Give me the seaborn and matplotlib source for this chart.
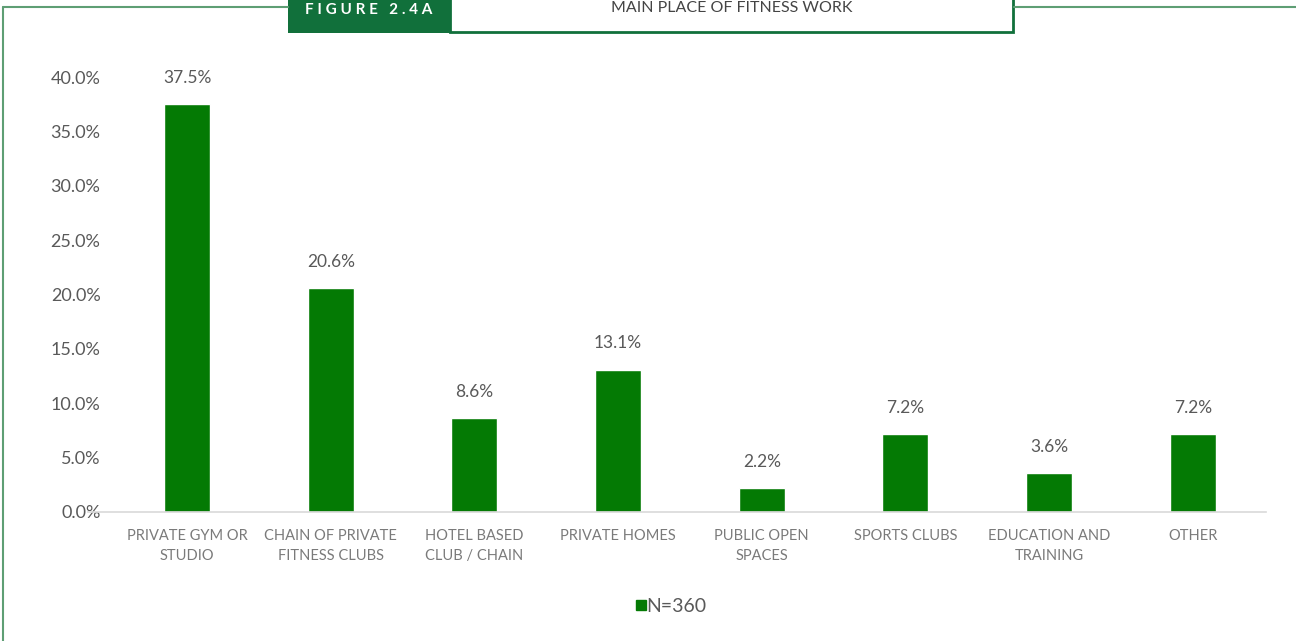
import matplotlib
matplotlib.use('Agg')
import matplotlib.pyplot as plt
import seaborn as sns
import pandas as pd
from matplotlib.patches import Rectangle
from matplotlib.lines import Line2D

categories = ['PRIVATE GYM OR\nSTUDIO', 'CHAIN OF PRIVATE\nFITNESS CLUBS', 'HOTEL BASED\nCLUB / CHAIN',
              'PRIVATE HOMES', 'PUBLIC OPEN\nSPACES', 'SPORTS CLUBS', 'EDUCATION AND\nTRAINING', 'OTHER']
values = [37.5, 20.6, 8.6, 13.1, 2.2, 7.2, 3.6, 7.2]
series_name = 'N=360'
yticks = [0, 5, 10, 15, 20, 25, 30, 35, 40]

bar_green = '#047A04'
dark_green = '#11703B'
line_green = '#5E9E74'
grey = '#595959'

sns.set_style('white')
plt.rcParams['font.family'] = ['Lato', 'DejaVu Sans']

df = pd.DataFrame({'cat': categories, 'val': values, 'series': series_name})

fig = plt.figure(figsize=(12.96, 6.41), dpi=100)
W, H = 1296, 641
ax = fig.add_axes([88 / W, 129 / H, (1266 - 88) / W, (512 - 77) / H])
sns.barplot(data=df, x='cat', y='val', hue='series', palette=[bar_green],
            width=0.32, ax=ax, legend=False, saturation=1)

ax.set_xlim(-0.69, 7.51)
ax.set_ylim(0, 40)
ax.set_yticks(yticks)
ax.set_yticklabels([f'{t:.1f}%' for t in yticks], fontsize=13, color=grey)
ax.tick_params(axis='y', length=0, pad=-9)
ax.tick_params(axis='x', length=0, pad=12)
for lab in ax.get_xticklabels():
    lab.set_fontsize(10.5)
    lab.set_color('#7a7a7a')
    lab.set_linespacing(1.6)
ax.set_xlabel('')
ax.set_ylabel('')
for s in ['top', 'right', 'left']:
    ax.spines[s].set_visible(False)
ax.spines['bottom'].set_color('#d9d9d9')
ax.spines['bottom'].set_linewidth(1.2)

for i, v in enumerate(values):
    ax.annotate(f'{v}%', (i, v), xytext=(0, 13), textcoords='offset points',
                ha='center', va='bottom', fontsize=12.5, color=grey)

# legend
handle = Line2D([], [], marker='s', linestyle='', color=bar_green, markersize=7)
fig.legend([handle], [series_name], loc='center', bbox_to_anchor=(668 / W, 1 - 606 / H),
           frameon=False, fontsize=14, handletextpad=-0.3, handlelength=1.2, labelcolor=grey)

# frame and header
fig.add_artist(Line2D([3 / W, 288 / W], [1 - 7 / H, 1 - 7 / H], color=line_green, lw=1.5))
fig.add_artist(Line2D([1014 / W, 1], [1 - 7 / H, 1 - 7 / H], color=line_green, lw=1.5))
fig.add_artist(Line2D([3 / W, 3 / W], [0, 1 - 7 / H], color=line_green, lw=1.5))
fig.add_artist(Rectangle((288 / W, 1 - 33 / H), 162 / W, 33 / H, transform=fig.transFigure,
                         facecolor=dark_green, edgecolor='none'))
fig.add_artist(Rectangle((450 / W, 1 - 32 / H), 563 / W, 34 / H, transform=fig.transFigure,
                         facecolor='white', edgecolor=dark_green, lw=2))
fig.text(369 / W, 1 - 10 / H, 'F I G U R E   2 . 4 A', color='white', fontsize=11, fontweight='bold',
         ha='center', va='center')
fig.text(732 / W, 1 - 8 / H, 'MAIN PLACE OF FITNESS WORK', color='#444444', fontsize=11.5,
         ha='center', va='center')

fig.savefig('out.png', dpi=100)
